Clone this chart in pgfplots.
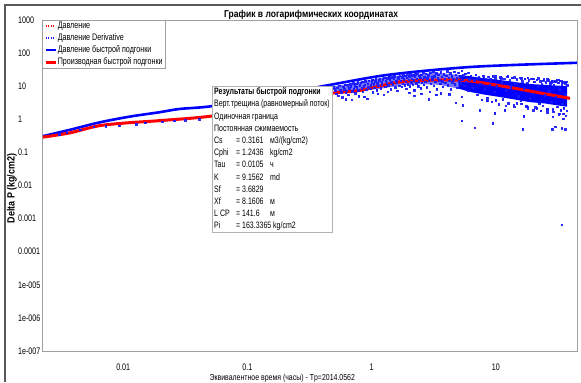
\documentclass[border=0pt]{standalone}
\usepackage{fontspec}
\setmainfont[FakeStretch=0.75]{Liberation Sans}
\newfontfamily\titlefont[FakeStretch=0.85]{Liberation Sans}
\newfontfamily\labelfont[FakeStretch=0.8]{Liberation Sans}
\usepackage{pgfplots}
\pgfplotsset{compat=1.18}
\begin{document}
\begin{tikzpicture}[x=1bp,y=1bp]
\path[use as bounding box] (0,0) rectangle (581,382);
\draw[black!65, line width=2bp] (5,0) -- (5,377) -- (581,377);
\begin{loglogaxis}[
  at={(42bp,31bp)}, anchor=south west,
  width=535bp, height=331bp, scale only axis,
  xmin=0.00222, xmax=45, ymin=1e-7, ymax=1000,
  font=\fontsize{9.5bp}{11bp}\selectfont,
  axis line style={draw=gray!75, line width=0.8bp},
  tick style={draw=none},
  xtick={0.01,0.1,1,10}, xticklabels={0.01,0.1,1,10},
  ytick={1e-7,1e-6,1e-5,1e-4,1e-3,1e-2,1e-1,1,10,100,1000},
  yticklabels={1e-007,1e-006,1e-005,0.0001,0.001,0.01,0.1,1,10,100,1000},
  yticklabel style={anchor=west, xshift=-24bp, inner sep=0pt},
  xticklabel style={anchor=center, yshift=-16bp, inner sep=0pt},
  title={\titlefont\fontsize{10bp}{12bp}\selectfont\bfseries График в логарифмических координатах},
  every axis title/.style={at={(axis description cs:0.503,1.016)}, anchor=center, inner sep=0pt},
  xlabel={\labelfont\fontsize{8.7bp}{10bp}\selectfont Эквивалентное время (часы) - Tp=2014.0562},
  xlabel style={at={(axis description cs:0.449,-0.083)}, anchor=center, inner sep=0pt},
  ylabel={\titlefont\fontsize{10.5bp}{12bp}\selectfont\bfseries Delta P (kg/cm2)},
  ylabel style={at={(axis description cs:-0.056,0.491)}, anchor=center, inner sep=0pt},
  legend cell align=left,
  legend style={at={(axis description cs:0,1)}, anchor=north west,
    draw=gray!75, fill=white, inner xsep=2bp, inner ysep=1bp, row sep=2.6bp,
    font=\fontsize{9.5bp}{11bp}\selectfont,
    nodes={inner sep=0.6bp, text height=6.5bp, text depth=1.8bp}},
  legend image code/.code={\draw[#1] (0bp,0bp) -- (10bp,0bp);},
]
% dense parts of the derivative scatter
\addplot[fill=blue, draw=none, fill opacity=0.55, forget plot] coordinates {
(0.5,10) (0.8,13.5) (1.2,18) (1.7,21) (2.5,24) (3.5,25) (5.0,22)
(5.0,8.5) (3.5,11) (2.5,11.5) (1.7,10.5) (1.2,8.5) (0.8,7.2) (0.5,6.5)
} -- cycle;
\addplot[fill=blue, draw=none, forget plot] coordinates {
(5.0,22) (6.2,20) (8,17.5) (10.8,15.4) (14,13.5) (18.8,11.6) (25,11) (30,10.5) (37.4,10.1)
(37.4,2.4) (30,2.7) (25,3.0) (18.8,3.3) (14,4.0) (10.8,4.7) (8,5.6) (6.2,6.7) (5.0,8.5)
} -- cycle;
% pressure data
\addplot[red, dash pattern=on 1.2bp off 1.3bp, line width=1.3bp] coordinates {
(0.00226,0.31) (0.00367,0.475) (0.0064,0.80) (0.0112,1.2) (0.0195,1.63) (0.0283,2.05)
(0.052,2.5) (0.15,5.0) (0.458,10.9) (1.16,20.3) (2.58,28.8) (6.17,38) (13.7,43.7) (37,50)
};
\addlegendentry{Давление}
% pressure derivative data
\addplot[only marks, mark=square*, mark size=0.75bp, color=blue!90, opacity=0.9,
  legend image code/.code={\draw[blue, dash pattern=on 1.2bp off 1.3bp, line width=1.3bp] (0bp,0bp) -- (10bp,0bp);}]
coordinates {
(0.00305,0.36) (0.0035,0.40) (0.0045,0.48) (0.0058,0.59) (0.0072,0.62) (0.0093,0.63)
(0.0127,0.72) (0.015,0.78) (0.0206,0.85) (0.0258,0.90) (0.0316,0.94) (0.041,1.02)
(0.49,9.8) (0.50,8.5) (0.51,7.2) (0.52,6.0) (0.53,9.1) (0.54,5.2) (0.55,10.2) (0.56,7.8)
(0.57,6.6) (0.58,4.6) (0.59,9.5) (0.60,8.0) (0.61,11.0) (0.62,6.3) (0.63,7.4) (0.64,10.6)
(0.65,5.5) (0.66,8.8) (0.67,11.4) (0.68,9.7) (0.69,3.9) (0.70,7.0) (0.71,12.2) (0.72,8.3)
(0.73,10.1) (0.74,6.1) (0.75,11.8) (0.76,9.2) (0.77,13.0) (0.78,7.7) (0.79,5.0) (0.80,10.8)
(0.82,12.6) (0.83,8.6) (0.84,13.5) (0.85,6.8) (0.86,9.9) (0.88,11.2) (0.89,14.2) (0.90,7.9)
(0.92,4.2) (0.93,12.0) (0.94,9.4) (0.95,14.8) (0.97,8.3) (0.98,10.7) (1.00,13.3) (1.01,15.6)
(1.02,6.5) (1.04,11.6) (1.05,9.0) (1.07,14.0) (1.08,16.2) (1.10,7.6) (1.11,12.5) (1.13,10.2)
(1.15,15.0) (1.16,17.0) (1.18,8.7) (1.20,13.4) (1.21,11.1) (1.23,16.0) (1.25,5.6) (1.26,18.0)
(1.28,9.8) (1.30,14.6) (1.32,12.2) (1.34,17.3) (1.36,10.6) (1.38,19.0) (1.40,15.5) (1.42,8.1)
(1.44,13.0) (1.46,18.4) (1.48,11.4) (1.50,16.6) (1.52,20.0) (1.55,9.3) (1.57,14.4) (1.59,12.6)
(1.62,19.2) (1.64,17.2) (1.66,10.5) (1.69,21.0)
(0.62,4.0) (0.87,4.8) (1.12,5.9) (1.35,6.8) (1.6,7.4)
(1.72,14.8) (1.74,9.6) (1.76,18.8) (1.78,12.0) (1.80,22.5) (1.82,16.4) (1.84,10.9) (1.86,20.6)
(1.88,13.7) (1.90,8.4) (1.92,17.9) (1.94,23.4) (1.96,11.5) (1.98,15.6) (2.00,19.8) (2.03,9.9)
(2.05,24.0) (2.08,13.0) (2.10,17.0) (2.13,21.8) (2.15,11.2) (2.18,15.0) (2.20,7.6) (2.23,19.4)
(2.25,23.0) (2.28,12.4) (2.30,16.8) (2.33,25.0) (2.36,10.0) (2.39,14.2) (2.42,20.8) (2.45,18.0)
(2.48,8.8) (2.51,22.6) (2.54,12.9) (2.57,15.8) (2.60,26.0) (2.63,11.0) (2.66,19.0) (2.70,13.8)
(2.73,23.8) (2.77,9.2) (2.80,17.4) (2.84,21.2) (2.88,14.6) (2.92,6.9) (2.96,25.4) (3.00,12.1)
(3.04,18.6) (3.08,16.0) (3.12,27.0) (3.16,10.4) (3.20,20.4) (3.25,13.5) (3.30,24.4) (3.35,8.2)
(3.40,17.2) (3.45,22.0) (3.50,15.2) (3.55,11.7) (3.60,26.6) (3.65,19.6) (3.70,14.0) (3.75,9.5)
(3.80,23.2) (3.86,16.6) (3.92,12.6) (3.98,21.0) (4.04,28.0) (4.10,10.8) (4.16,18.2) (4.22,14.9)
(4.28,24.8) (4.34,8.0) (4.40,20.0) (4.47,13.2) (4.54,16.2) (4.61,27.4) (4.68,11.4) (4.75,22.2)
(4.82,17.6) (4.90,9.0) (4.98,25.8) (5.06,14.4) (5.14,19.2) (5.22,12.0) (5.30,29.0) (5.38,15.8)
(5.46,21.4) (5.55,10.2) (5.64,24.0) (5.73,13.6) (5.82,18.0) (5.91,7.2) (6.00,26.0) (6.10,16.4)
(2.2,5.2) (2.88,4.1) (2.5,6.0) (3.3,5.5) (4.76,3.2) (3.6,6.2) (5.3,4.8) (4.2,5.8) (2.0,6.4)
(5.4,2.7) (7.4,1.9) (6.75,0.56) (5.3,0.9) (9.45,0.76) (9.8,1.55) (11.8,1.9) (14.7,3.1)
(16.8,1.26) (16.5,0.51) (17.8,2.4) (21.4,2.2) (25.8,1.9) (28.3,0.51) (28.8,1.2) (34,0.53)
(36,0.5) (34.7,1.06) (32.6,1.5) (29.9,0.6) (33.9,0.00066)
(6.3,20.5) (6.5,9.0) (6.7,15.0) (6.9,22.0) (7.1,5.6) (7.3,18.6) (7.5,12.0) (7.7,3.9)
(7.9,21.0) (8.1,8.2) (8.3,16.2) (8.5,4.4) (8.7,19.6) (8.9,11.0) (9.1,14.0) (9.3,3.4)
(9.5,20.2) (9.7,6.8) (9.9,17.4) (10.2,10.0) (10.5,2.9) (10.8,18.8) (11.1,13.2) (11.4,4.0)
(11.7,16.8) (12.0,7.6) (12.3,19.4) (12.6,3.1) (12.9,15.0) (13.2,9.4) (13.5,17.8) (13.9,2.7)
(14.3,12.4) (14.7,16.0) (15.1,5.0) (15.5,18.2) (15.9,3.6) (16.3,14.0) (16.7,8.6) (17.1,16.6)
(17.5,2.5) (17.9,12.8) (18.3,15.4) (18.8,4.3) (19.3,17.0) (19.8,6.0) (20.3,13.6) (20.8,2.3)
(21.3,15.8) (21.8,9.8) (22.3,3.0) (22.8,14.4) (23.3,11.8) (23.8,2.6) (24.3,16.2) (24.8,5.4)
(25.3,13.0) (25.8,2.1) (26.3,15.0) (26.8,7.0) (27.3,12.2) (27.8,3.4) (28.3,14.2) (28.8,2.0)
(29.3,11.0) (29.8,13.6) (30.3,4.6) (30.8,15.2) (31.3,2.4) (31.8,12.6) (32.3,8.0) (32.8,14.6)
(33.3,1.9) (33.8,11.4) (34.3,3.0) (34.8,13.2) (35.3,2.2) (35.8,12.0) (36.3,5.8) (36.8,13.8)
(37.2,1.8) (37.4,10.8)
(7.0,17.0) (8.0,19.2) (9.0,16.0) (10.0,21.0) (11.0,17.6) (12.5,20.0) (14.0,18.6) (16.0,17.6)
(18.0,18.0) (20.0,16.6) (22.0,17.2) (24.0,14.8) (26.0,16.4) (28.0,13.0) (30.0,14.0) (32.0,15.6)
(34.0,14.0) (36.0,12.6)
(8.5,3.6) (10,3.8) (12,2.6) (14,2.4) (16,3.0) (18,2.2) (20,1.9) (23,1.8) (26,1.6) (29,1.7)
(32,1.45) (35,1.5) (36.6,1.3)
};
\addlegendentry{Давление Derivative}
% pressure fit
\addplot[blue, line width=2.6bp, smooth] coordinates {
(0.00226,0.31) (0.00367,0.475) (0.0064,0.80) (0.0112,1.2) (0.0195,1.63) (0.0283,2.05)
(0.052,2.5) (0.15,5.0) (0.458,10.9) (1.16,20.3) (2.58,28.8) (6.17,38) (13.7,43.7) (45,51)
};
\addlegendentry{Давление быстрой подгонки}
% derivative fit
\addplot[red, line width=3bp, smooth] coordinates {
(0.00226,0.29) (0.00367,0.385) (0.0064,0.64) (0.0112,0.79) (0.0195,0.91) (0.052,1.26)
(0.15,2.7) (0.458,6.0) (0.80,7.4) (1.68,13.4) (3.54,15.4) (6.17,14.4) (12.3,9.5)
(22.6,6.3) (39.5,4.3)
};
\addlegendentry{Производная быстрой подгонки}
\end{loglogaxis}
\node[anchor=north west, draw=gray!60, fill=white, inner xsep=2bp, inner ysep=1.5bp,
  align=left, font=\fontsize{9.3bp}{12.2bp}\selectfont] at (212,296) {%
\makebox[116bp][l]{\bfseries Результаты быстрой подгонки}\\
Верт.трещина (равномерный поток)\\
Одиночная граница\\
Постоянная сжимаемость\\
\makebox[22bp][l]{Cs}\makebox[34bp][l]{= 0.3161}м3/(kg/cm2)\\
\makebox[22bp][l]{Cphi}\makebox[34bp][l]{= 1.2436}kg/cm2\\
\makebox[22bp][l]{Tau}\makebox[34bp][l]{= 0.0105}ч\\
\makebox[22bp][l]{K}\makebox[34bp][l]{= 9.1562}md\\
\makebox[22bp][l]{Sf}\makebox[34bp][l]{= 3.6829}\\
\makebox[22bp][l]{Xf}\makebox[34bp][l]{= 8.1606}м\\
\makebox[22bp][l]{L CP}\makebox[34bp][l]{= 141.6}м\\
\makebox[22bp][l]{Pi}= 163.3365 kg/cm2};
\end{tikzpicture}
\end{document}
